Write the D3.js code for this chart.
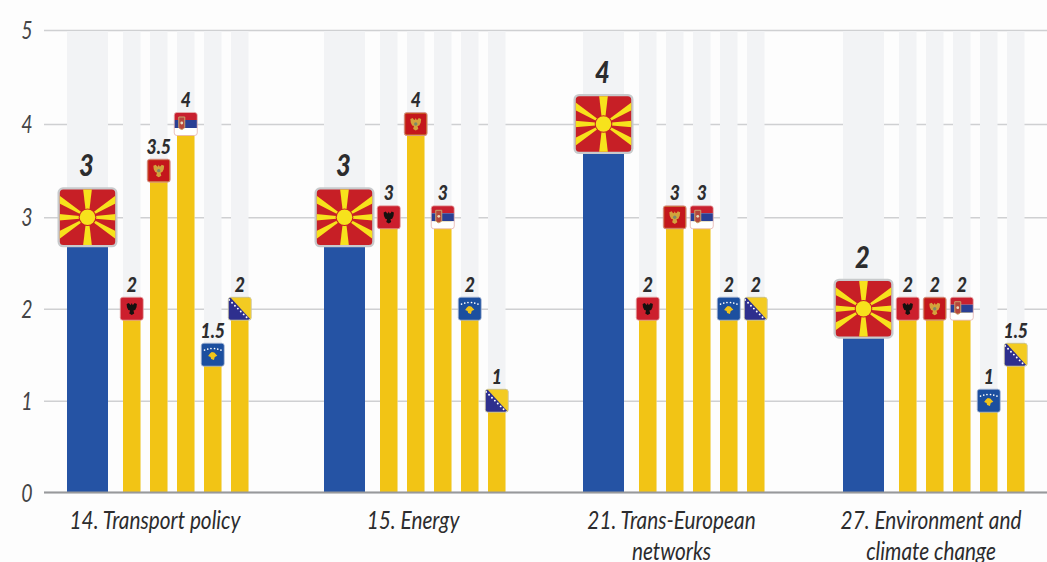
<!DOCTYPE html>
<html><head><meta charset="utf-8">
<script src="https://cdn.jsdelivr.net/npm/d3@7/dist/d3.min.js"></script>
<style>
html,body{margin:0;padding:0;background:#fdfdfd;overflow:hidden}
svg{display:block}
text{font-family:Lato,"Open Sans",sans-serif;font-style:italic;fill:#2c2c2e}
</style></head><body>
<svg id="chart" width="1047" height="562"></svg>
<script>
const categories = [["14. Transport policy"],["15. Energy"],["21. Trans-European","networks"],["27. Environment and","climate change"]];
const leadValues = [3,3,4,2];
const countries = ["Albania","Montenegro","Serbia","Kosovo","Bosnia"];
const albania    = [2,3,2,2];
const montenegro = [3.5,4,3,2];
const serbia     = [4,3,3,2];
const kosovo     = [1.5,2,2,1];
const bosnia     = [2,1,2,1.5];
const series = [albania,montenegro,serbia,kosovo,bosnia];
const yTicks = [0,1,2,3,4,5];

const W=1047,H=562;
const svg=d3.select("#chart");
const y=d3.scaleLinear().domain(yTicks).range([492,400.7,308.7,217.3,124,30]);
const gx=d3.scaleOrdinal().domain(d3.range(categories.length)).range([67,324,583,843]);
const sx=d3.scalePoint().domain(countries).range([56,164]);
const leadW=41, barW=17.5;
const blue="#2553a4", yellow="#f2c415", track="#f2f3f5", grid="#cfd0d2";

const defs=svg.append("defs");
defs.append("clipPath").attr("id","rc").append("rect").attr("x",-11.5).attr("y",-11.5).attr("width",23).attr("height",23).attr("rx",2.6);

function base(id){return defs.append("g").attr("id",id);}
function frame(g,c){g.append("rect").attr("x",-11.5).attr("y",-11.5).attr("width",23).attr("height",23).attr("rx",2.6).attr("fill","none").attr("stroke",c).attr("stroke-width",.8);}
const eagle="M0,-6 L1,-4 L2,-4.6 L3,-6 L5.4,-5 L5,-1.5 L3.6,1.4 L1.8,2 L2.6,5 L0,6.6 L-2.6,5 L-1.8,2 L-3.6,1.4 L-5,-1.5 L-5.4,-5 L-3,-6 L-2,-4.6 L-1,-4Z";

let g=base("f-Albania");
let c=g.append("g").attr("clip-path","url(#rc)");
c.append("rect").attr("x",-12).attr("y",-12).attr("width",24).attr("height",24).attr("fill","#cc1f2d");
c.append("path").attr("d",eagle).attr("fill","#15110f").attr("transform","scale(.95)");
frame(g,"#e3a3a3");

g=base("f-Montenegro");
c=g.append("g").attr("clip-path","url(#rc)");
c.append("rect").attr("x",-12).attr("y",-12).attr("width",24).attr("height",24).attr("fill","#c4161c");
c.append("rect").attr("x",-10.8).attr("y",-10.8).attr("width",21.6).attr("height",21.6).attr("fill","none").attr("stroke","#c9982f").attr("stroke-width",.6);
c.append("path").attr("d",eagle).attr("fill","#d3a23c");
c.append("circle").attr("r",1.7).attr("fill","#7c8a6a");
frame(g,"#d8a09a");

g=base("f-Serbia");
c=g.append("g").attr("clip-path","url(#rc)");
[["#c8202f",-12],["#2a3f94",-4],["#ffffff",4]].forEach(d=>c.append("rect").attr("x",-12).attr("y",d[1]).attr("width",24).attr("height",8).attr("fill",d[0]));
c.append("path").attr("d","M-3,-7H3V3.5Q0,7.5 -3,3.5Z").attr("transform","translate(-4,0)").attr("fill","#b5473c").attr("stroke","#c9a26b").attr("stroke-width",1);
c.append("circle").attr("cx",-4).attr("cy",-1).attr("r",1.4).attr("fill","#e8dcc0");
frame(g,"#e6b3b0");

g=base("f-Kosovo");
c=g.append("g").attr("clip-path","url(#rc)");
c.append("rect").attr("x",-12).attr("y",-12).attr("width",24).attr("height",24).attr("fill","#1c4f9f");
[-8.2,-5,-1.8,1.8,5,8.2].forEach((d,i)=>c.append("circle").attr("cx",d).attr("cy",[-4.6,-5.6,-6.2,-6.2,-5.6,-4.6][i]).attr("r",.85).attr("fill","#fff"));
c.append("path").attr("d","M-1,-2.6 L1.5,-2.2 L4.6,1 L2,2.2 L1.2,5.2 L-1.6,4.4 L-2.2,2.2 L-4.6,1.4 L-2.8,-1.2Z").attr("fill","#f0c419");
frame(g,"#a9b9d4");

g=base("f-Bosnia");
c=g.append("g").attr("clip-path","url(#rc)");
c.append("rect").attr("x",-12).attr("y",-12).attr("width",24).attr("height",24).attr("fill","#2e2f8e");
c.append("path").attr("d","M-10,-12H12V12Z").attr("fill","#f3cb22");
[0,1,2,3,4,5,6,7].forEach(i=>c.append("circle").attr("cx",-10.6+i*2.9).attr("cy",-8.8+i*2.9).attr("r",.95).attr("fill","#fff"));
frame(g,"#dcd7a8");

g=base("f-Macedonia");
g.append("rect").attr("x",-30).attr("y",-30).attr("width",60).attr("height",60).attr("rx",5.5).attr("fill","#c8cacc");
defs.append("clipPath").attr("id","rm").append("rect").attr("x",-27.7).attr("y",-27.7).attr("width",55.4).attr("height",55.4).attr("rx",3.5);
c=g.append("g").attr("clip-path","url(#rm)");
c.append("rect").attr("x",-30).attr("y",-30).attr("width",60).attr("height",60).attr("fill","#c71f26");
[0,180].forEach(a=>c.append("path").attr("d","M-2,-8 L-4.6,-30 L4.6,-30 L2,-8Z").attr("fill","#f7e21c").attr("transform",`rotate(${a})`));
[90,270].forEach(a=>c.append("path").attr("d","M-1.4,-8 L-3.4,-30 L3.4,-30 L1.4,-8Z").attr("fill","#f7e21c").attr("transform",`rotate(${a})`));
[58,122,238,302].forEach(a=>c.append("path").attr("d","M-1.2,-8 L-3.6,-36 L3.6,-36 L1.2,-8Z").attr("fill","#f7e21c").attr("transform",`rotate(${a})`));
c.append("circle").attr("r",8.8).attr("fill","#c71f26");
c.append("circle").attr("r",7.8).attr("fill","#f7e21c");

// grid + axis
const axis=svg.append("g").attr("class","y-axis").attr("transform","translate(44,0)")
  .call(d3.axisLeft(y).tickValues(yTicks).tickFormat(d3.format("d")).tickPadding(11).tickSizeInner(-(W-44)).tickSizeOuter(0));
axis.select(".domain").remove();
axis.selectAll("line").attr("stroke",grid).attr("stroke-width",1.5);
axis.selectAll("text").attr("font-size",25).attr("x",null).attr("dy",null).attr("text-anchor","middle")
  .attr("transform",d=>`translate(-17,${d===0?1:0}) scale(.78,1) translate(0,8.5)`).style("fill","#444446");

// groups
const groups=svg.selectAll("g.group").data(categories).join("g").attr("class","group")
  .attr("transform",(d,i)=>`translate(${gx(i)},0)`);

const baseline=y(0);
groups.append("rect").attr("x",0).attr("width",leadW).attr("y",y(5)+1).attr("height",baseline-y(5)-1).attr("fill",track);
groups.selectAll("rect.tr").data(countries).join("rect").attr("class","tr")
  .attr("x",k=>sx(k)).attr("width",barW).attr("y",y(5)+1).attr("height",baseline-y(5)-1).attr("fill",track);
svg.append("line").attr("x1",44).attr("x2",W).attr("y1",y(0)+.5).attr("y2",y(0)+.5).attr("stroke","#98999b").attr("stroke-width",2.2);

function label(G,x,yy,size,weight,sc,t){
  return G.append("text").attr("text-anchor","middle").attr("font-size",size).attr("font-weight",weight)
    .attr("transform",`translate(${x},${yy}) scale(${sc},1)`).text(t);
}
groups.each(function(d,i){
  const G=d3.select(this);
  const v=leadValues[i], cx=leadW/2;
  G.append("rect").attr("x",0).attr("width",leadW).attr("y",y(v)).attr("height",baseline-y(v)).attr("fill",blue);
  G.append("use").attr("href","#f-Macedonia").attr("transform",`translate(${cx},${y(v)})`);
  label(G,cx-1,y(v)-41,30,900,.85,v);
  countries.forEach((k,j)=>{
    const val=series[j][i], x=sx(k)+barW/2;
    G.append("rect").attr("x",sx(k)).attr("width",barW).attr("y",y(val)).attr("height",baseline-y(val)).attr("fill",yellow);
    G.append("use").attr("href","#f-"+k).attr("transform",`translate(${x},${y(val)})`);
    label(G,x,y(val)-17,20,900,.88,val);
  });
  d.forEach((line,n)=>label(G,[88,89,88.5,88][i],529+n*31,26,400,.8,line));
});
</script>
</body></html>
